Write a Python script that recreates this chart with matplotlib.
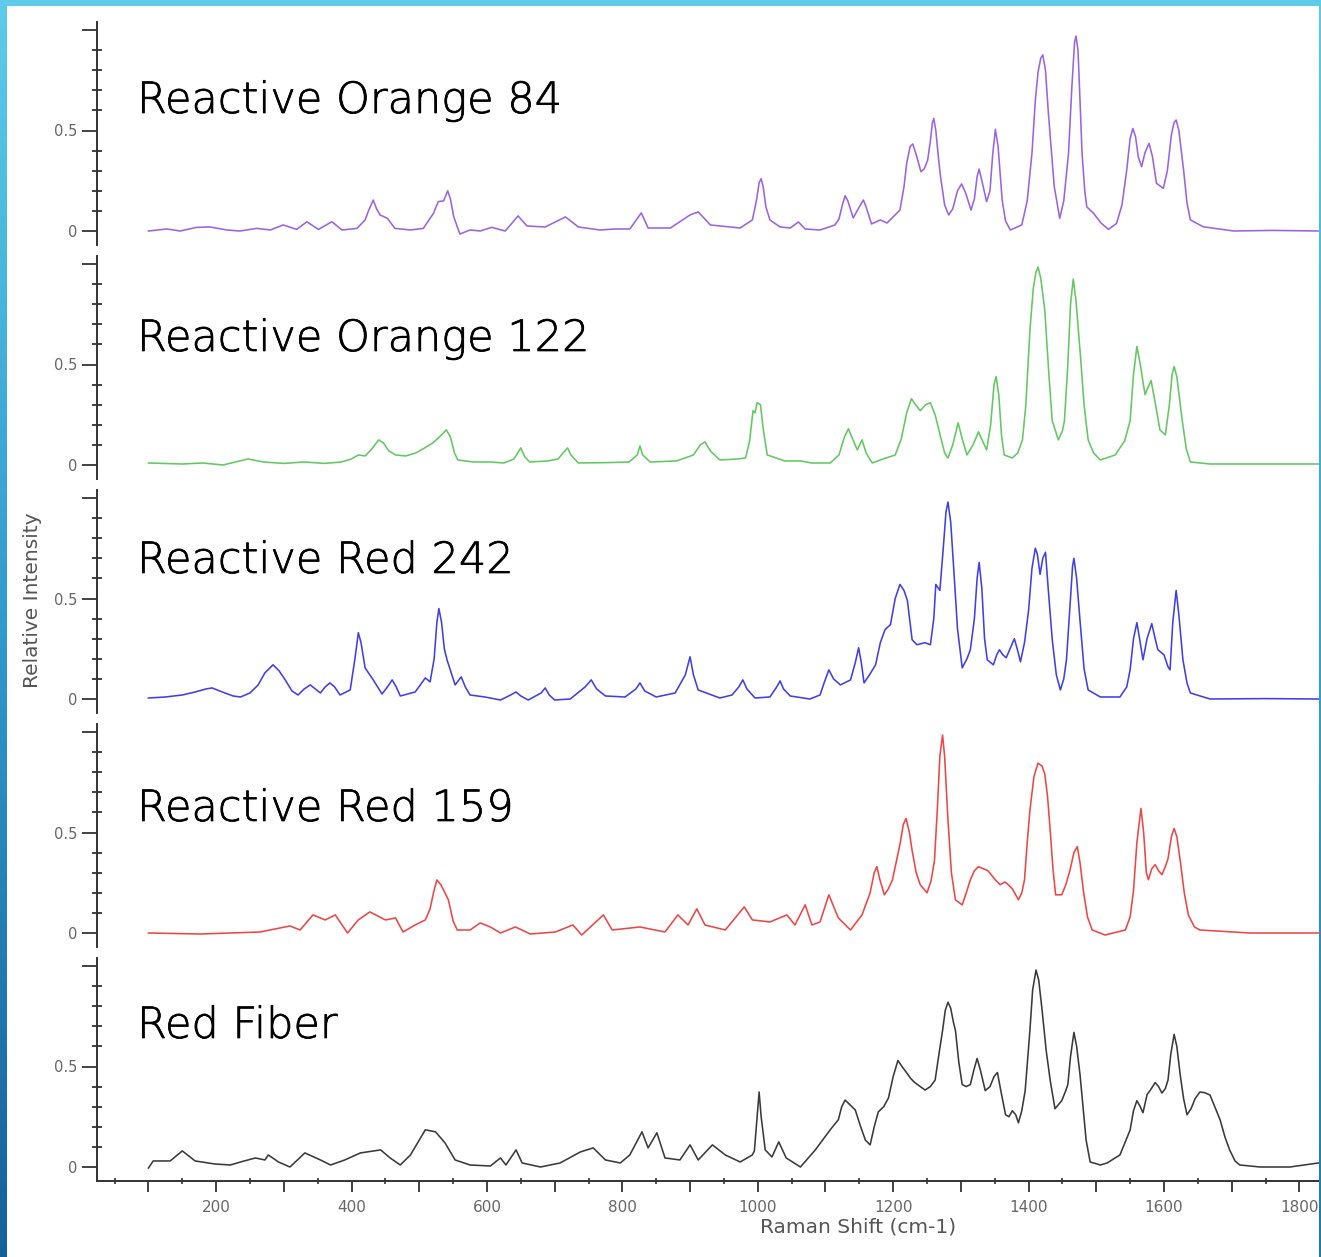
import matplotlib
matplotlib.use("Agg")
import matplotlib.pyplot as plt
import matplotlib.patheffects as pe
import numpy as np
from matplotlib.colors import LinearSegmentedColormap
from matplotlib.ticker import MultipleLocator, FixedLocator

# ---- spectra: Raman shift (cm-1) and relative intensity ----
shift_ro84 = [100, 127, 147, 171, 191, 216, 235, 260, 280, 299, 319, 334, 351, 371, 386, 408,
              420, 425, 432, 437, 442, 453, 464, 487, 506, 521, 528, 536, 542, 546, 551, 560,
              575, 590, 607, 627, 646, 659, 686, 716, 735, 767, 789, 811, 828, 838, 871, 900,
              912, 930, 974, 992, 998, 1002, 1005, 1008, 1012, 1018, 1033, 1048, 1060, 1070,
              1092, 1114, 1120, 1125, 1129, 1133, 1141, 1150, 1156, 1160, 1168, 1181, 1191,
              1210, 1216, 1220, 1225, 1229, 1234, 1241, 1246, 1251, 1255, 1258, 1260, 1263,
              1267, 1270, 1276, 1282, 1288, 1295, 1301, 1307, 1315, 1320, 1324, 1327, 1331,
              1338, 1343, 1347, 1351, 1355, 1361, 1366, 1373, 1390, 1398, 1405, 1410, 1414,
              1418, 1421, 1425, 1429, 1432, 1438, 1446, 1452, 1459, 1464, 1468, 1470, 1473,
              1476, 1479, 1483, 1486, 1496, 1507, 1518, 1530, 1538, 1545, 1550, 1554, 1558,
              1562, 1567, 1572, 1578, 1583, 1589, 1599, 1605, 1611, 1615, 1618, 1622, 1629,
              1634, 1639, 1658, 1703, 1760, 1828]
inten_ro84 = [0.0, 0.01, 0.0, 0.018, 0.02, 0.005, 0.0, 0.013, 0.005, 0.03, 0.008, 0.046, 0.008,
              0.046, 0.005, 0.013, 0.055, 0.1, 0.154, 0.11, 0.08, 0.063, 0.013, 0.005, 0.013,
              0.088, 0.146, 0.15, 0.2, 0.16, 0.07, -0.015, 0.005, 0.0, 0.018, 0.0, 0.075, 0.025,
              0.02, 0.07, 0.02, 0.005, 0.01, 0.01, 0.09, 0.015, 0.015, 0.08, 0.095, 0.03, 0.015,
              0.055, 0.15, 0.24, 0.26, 0.22, 0.12, 0.055, 0.02, 0.015, 0.045, 0.01, 0.005, 0.03,
              0.06, 0.13, 0.175, 0.15, 0.065, 0.12, 0.154, 0.12, 0.035, 0.055, 0.04, 0.104, 0.22,
              0.337, 0.42, 0.433, 0.38, 0.295, 0.31, 0.353, 0.45, 0.54, 0.56, 0.5, 0.36, 0.27,
              0.13, 0.08, 0.11, 0.2, 0.234, 0.19, 0.104, 0.16, 0.27, 0.308, 0.25, 0.146, 0.2,
              0.38, 0.506, 0.42, 0.154, 0.05, 0.005, 0.03, 0.15, 0.386, 0.65, 0.79, 0.86, 0.876,
              0.8, 0.6, 0.47, 0.22, 0.063, 0.15, 0.386, 0.72, 0.94, 0.97, 0.9, 0.65, 0.386, 0.2,
              0.12, 0.088, 0.04, 0.008, 0.038, 0.13, 0.303, 0.46, 0.51, 0.47, 0.37, 0.32, 0.39,
              0.436, 0.37, 0.237, 0.212, 0.3, 0.48, 0.54, 0.552, 0.5, 0.303, 0.14, 0.055, 0.021,
              0.0, 0.003, 0.0]

shift_ro122 = [100, 120, 150, 180, 210, 247, 270, 300, 330, 360, 385, 400, 410, 420, 430, 440,
               447, 455, 465, 480, 495, 508, 520, 530, 540, 546, 552, 557, 580, 605, 625, 640,
               650, 656, 663, 690, 705, 715, 719, 724, 735, 780, 810, 822, 826, 830, 841, 880,
               905, 915, 922, 930, 944, 970, 982, 988, 993, 996, 999, 1004, 1008, 1014, 1040,
               1063, 1080, 1107, 1120, 1128, 1134, 1140, 1147, 1154, 1160, 1169, 1185, 1203,
               1212, 1220, 1227, 1233, 1240, 1248, 1255, 1262, 1270, 1276, 1281, 1288, 1296,
               1302, 1309, 1318, 1326, 1332, 1338, 1344, 1349, 1352, 1356, 1360, 1364, 1376,
               1384, 1391, 1396, 1402, 1407, 1411, 1414, 1418, 1424, 1430, 1435, 1444, 1450,
               1453, 1458, 1462, 1466, 1470, 1476, 1482, 1488, 1496, 1506, 1528, 1542, 1550,
               1555, 1560, 1565, 1572, 1577, 1581, 1586, 1594, 1602, 1608, 1612, 1615, 1619,
               1627, 1633, 1639, 1668, 1750, 1828]
inten_ro122 = [0.01, 0.008, 0.005, 0.01, 0.0, 0.03, 0.015, 0.008, 0.015, 0.008, 0.015, 0.03,
               0.05, 0.045, 0.08, 0.125, 0.11, 0.07, 0.05, 0.045, 0.06, 0.085, 0.11, 0.14, 0.175,
               0.14, 0.06, 0.025, 0.015, 0.015, 0.01, 0.03, 0.085, 0.04, 0.015, 0.02, 0.03, 0.07,
               0.085, 0.05, 0.01, 0.012, 0.015, 0.05, 0.095, 0.05, 0.015, 0.02, 0.05, 0.1, 0.115,
               0.07, 0.025, 0.03, 0.035, 0.12, 0.27, 0.26, 0.31, 0.3, 0.18, 0.05, 0.02, 0.02,
               0.01, 0.01, 0.05, 0.14, 0.18, 0.13, 0.075, 0.125, 0.06, 0.01, 0.03, 0.05, 0.13,
               0.26, 0.33, 0.3, 0.27, 0.3, 0.31, 0.25, 0.14, 0.06, 0.035, 0.1, 0.21, 0.13, 0.05,
               0.1, 0.165, 0.12, 0.075, 0.2, 0.4, 0.44, 0.35, 0.15, 0.05, 0.035, 0.06, 0.125, 0.3,
               0.67, 0.88, 0.96, 0.985, 0.93, 0.77, 0.45, 0.22, 0.125, 0.17, 0.22, 0.5, 0.8, 0.925,
               0.82, 0.57, 0.3, 0.125, 0.06, 0.025, 0.05, 0.12, 0.22, 0.45, 0.59, 0.5, 0.35, 0.39,
               0.42, 0.33, 0.175, 0.15, 0.3, 0.45, 0.49, 0.44, 0.22, 0.08, 0.015, 0.005, 0.005,
               0.005]

shift_rr242 = [100, 125, 150, 169, 185, 194, 209, 225, 236, 250, 262, 272, 284, 293, 302, 312,
               321, 330, 339, 354, 361, 368, 375, 383, 398, 405, 410, 414, 420, 432, 445, 453,
               460, 466, 472, 494, 509, 516, 522, 526, 529, 533, 537, 541, 553, 562, 568, 575,
               597, 620, 635, 643, 650, 661, 680, 686, 692, 700, 723, 745, 754, 762, 775, 804,
               820, 826, 833, 850, 878, 893, 900, 905, 912, 944, 962, 972, 978, 984, 996, 1018,
               1028, 1033, 1038, 1048, 1077, 1092, 1098, 1105, 1112, 1122, 1137, 1144, 1149,
               1153, 1157, 1165, 1174, 1181, 1188, 1196, 1203, 1210, 1216, 1221, 1225, 1228,
               1235, 1247, 1255, 1260, 1263, 1269, 1274, 1278, 1281, 1285, 1290, 1295, 1302,
               1309, 1314, 1320, 1324, 1327, 1331, 1335, 1339, 1348, 1353, 1357, 1362, 1367,
               1374, 1379, 1384, 1388, 1394, 1400, 1405, 1410, 1413, 1417, 1421, 1425, 1429,
               1435, 1441, 1447, 1452, 1456, 1461, 1465, 1467, 1471, 1476, 1482, 1488, 1506,
               1535, 1545, 1550, 1555, 1560, 1564, 1569, 1575, 1582, 1587, 1591, 1600, 1606,
               1609, 1613, 1618, 1622, 1628, 1634, 1639, 1668, 1750, 1828]
inten_rr242 = [0.005, 0.01, 0.02, 0.035, 0.05, 0.055, 0.035, 0.015, 0.01, 0.03, 0.07, 0.13, 0.17,
               0.14, 0.095, 0.04, 0.02, 0.05, 0.07, 0.03, 0.06, 0.08, 0.06, 0.02, 0.045, 0.2, 0.33,
               0.28, 0.155, 0.095, 0.025, 0.06, 0.095, 0.06, 0.015, 0.035, 0.105, 0.085, 0.2,
               0.38, 0.45, 0.38, 0.25, 0.195, 0.07, 0.11, 0.06, 0.02, 0.01, -0.005, 0.02, 0.035,
               0.015, -0.005, 0.03, 0.055, 0.02, -0.005, 0.0, 0.06, 0.095, 0.05, 0.015, 0.01,
               0.05, 0.08, 0.04, 0.01, 0.03, 0.12, 0.21, 0.12, 0.045, 0.005, 0.02, 0.06, 0.095,
               0.05, 0.005, 0.01, 0.06, 0.09, 0.05, 0.015, 0.0, 0.02, 0.08, 0.145, 0.1, 0.07,
               0.095, 0.18, 0.255, 0.18, 0.08, 0.12, 0.17, 0.28, 0.345, 0.37, 0.5, 0.57, 0.54,
               0.49, 0.38, 0.295, 0.27, 0.28, 0.27, 0.4, 0.57, 0.54, 0.75, 0.93, 0.98, 0.88, 0.62,
               0.35, 0.155, 0.2, 0.245, 0.4, 0.6, 0.68, 0.55, 0.3, 0.195, 0.17, 0.22, 0.245, 0.22,
               0.205, 0.26, 0.30, 0.24, 0.185, 0.28, 0.44, 0.65, 0.75, 0.72, 0.62, 0.7, 0.73, 0.55,
               0.295, 0.12, 0.045, 0.1, 0.195, 0.45, 0.66, 0.70, 0.6, 0.39, 0.15, 0.045, 0.01,
               0.01, 0.06, 0.145, 0.3, 0.38, 0.3, 0.195, 0.3, 0.375, 0.3, 0.245, 0.22, 0.16, 0.145,
               0.38, 0.54, 0.42, 0.195, 0.08, 0.03, 0.0, 0.002, 0.0]

shift_rr159 = [100, 176, 265, 309, 324, 343, 361, 376, 394, 410, 427, 450, 465, 476, 494, 509,
               516, 521, 526, 532, 538, 543, 550, 556, 575, 590, 605, 620, 642, 664, 701, 727, 740,
               772, 785, 826, 863, 882, 897, 910, 922, 952, 980, 992, 1018, 1043, 1055, 1070,
               1080, 1092, 1105, 1119, 1137, 1154, 1166, 1172, 1176, 1180, 1187, 1193, 1199,
               1205, 1210, 1215, 1219, 1224, 1228, 1234, 1240, 1250, 1256, 1261, 1265, 1269,
               1273, 1276, 1281, 1286, 1292, 1302, 1308, 1314, 1320, 1326, 1333, 1340, 1351,
               1358, 1365, 1370, 1376, 1385, 1390, 1394, 1398, 1402, 1408, 1414, 1420, 1424,
               1428, 1432, 1436, 1440, 1449, 1455, 1461, 1467, 1472, 1476, 1481, 1487, 1494,
               1513, 1543, 1550, 1555, 1560, 1566, 1570, 1574, 1577, 1582, 1587, 1592, 1597,
               1602, 1606, 1611, 1615, 1619, 1624, 1630, 1636, 1645, 1653, 1727, 1828]
inten_rr159 = [0.0, -0.005, 0.005, 0.035, 0.015, 0.09, 0.065, 0.09, 0.0, 0.065, 0.105, 0.065,
               0.075, 0.005, 0.04, 0.065, 0.12, 0.2, 0.264, 0.24, 0.2, 0.165, 0.06, 0.015, 0.015,
               0.05, 0.03, 0.0, 0.03, -0.005, 0.005, 0.04, -0.01, 0.09, 0.015, 0.03, 0.005, 0.09,
               0.04, 0.12, 0.04, 0.015, 0.13, 0.065, 0.055, 0.09, 0.04, 0.14, 0.04, 0.055, 0.19,
               0.075, 0.015, 0.09, 0.2, 0.3, 0.33, 0.27, 0.19, 0.22, 0.265, 0.36, 0.44, 0.54,
               0.57, 0.5, 0.41, 0.3, 0.24, 0.2, 0.26, 0.36, 0.6, 0.88, 0.985, 0.88, 0.56, 0.3,
               0.165, 0.14, 0.2, 0.264, 0.31, 0.33, 0.32, 0.31, 0.264, 0.24, 0.254, 0.24, 0.22,
               0.165, 0.2, 0.264, 0.45, 0.61, 0.78, 0.845, 0.83, 0.79, 0.68, 0.51, 0.32, 0.19,
               0.19, 0.24, 0.31, 0.4, 0.43, 0.35, 0.21, 0.08, 0.015, -0.01, 0.015, 0.08, 0.21,
               0.45, 0.62, 0.5, 0.3, 0.265, 0.32, 0.34, 0.31, 0.29, 0.33, 0.37, 0.48, 0.52, 0.48,
               0.36, 0.2, 0.09, 0.03, 0.015, 0.0, 0.0]

shift_fiber = [100, 107, 132, 150, 169, 198, 221, 236, 258, 272, 277, 292, 309, 331, 354, 369,
               390, 413, 443, 457, 472, 487, 509, 524, 538, 553, 575, 605, 620, 628, 643, 652, 679,
               708, 738, 757, 775, 797, 811, 829, 838, 851, 863, 885, 900, 912, 933, 952, 974, 992,
               995, 999, 1002, 1005, 1011, 1021, 1031, 1042, 1063, 1085, 1107, 1119, 1124, 1129,
               1136, 1144, 1152, 1159, 1166, 1172, 1178, 1186, 1193, 1200, 1207, 1213, 1219, 1226,
               1232, 1240, 1247, 1255, 1262, 1268, 1273, 1277, 1281, 1285, 1289, 1292, 1297, 1302,
               1308, 1314, 1319, 1324, 1329, 1336, 1343, 1349, 1354, 1359, 1366, 1371, 1376, 1381,
               1385, 1390, 1395, 1402, 1406, 1411, 1415, 1420, 1426, 1432, 1439, 1444, 1449, 1455,
               1458, 1462, 1467, 1471, 1476, 1481, 1485, 1491, 1506, 1516, 1535, 1550, 1555, 1560,
               1565, 1569, 1575, 1580, 1587, 1592, 1597, 1602, 1606, 1610, 1615, 1619, 1624, 1629,
               1634, 1640, 1646, 1653, 1660, 1668, 1675, 1683, 1690, 1697, 1705, 1712, 1742, 1786,
               1828]
inten_fiber = [-0.005, 0.03, 0.03, 0.08, 0.03, 0.015, 0.01, 0.025, 0.045, 0.035, 0.06, 0.025,
               0.0, 0.07, 0.035, 0.01, 0.035, 0.07, 0.085, 0.045, 0.01, 0.06, 0.185, 0.175, 0.12,
               0.035, 0.01, 0.005, 0.045, 0.01, 0.085, 0.02, 0.0, 0.02, 0.075, 0.095, 0.035, 0.02,
               0.06, 0.175, 0.095, 0.17, 0.045, 0.035, 0.11, 0.035, 0.11, 0.06, 0.025, 0.06, 0.08,
               0.25, 0.373, 0.25, 0.085, 0.05, 0.125, 0.045, 0.0, 0.085, 0.185, 0.235, 0.3, 0.333,
               0.31, 0.284, 0.2, 0.134, 0.11, 0.2, 0.274, 0.3, 0.343, 0.45, 0.53, 0.5, 0.473,
               0.44, 0.42, 0.4, 0.383, 0.4, 0.433, 0.57, 0.68, 0.78, 0.82, 0.79, 0.72, 0.68, 0.52,
               0.41, 0.4, 0.41, 0.48, 0.54, 0.48, 0.38, 0.40, 0.45, 0.47, 0.38, 0.26, 0.25, 0.28,
               0.26, 0.22, 0.28, 0.38, 0.68, 0.88, 0.98, 0.93, 0.78, 0.58, 0.43, 0.29, 0.31, 0.33,
               0.38, 0.41, 0.55, 0.67, 0.6, 0.46, 0.28, 0.134, 0.025, 0.01, 0.02, 0.06, 0.184,
               0.28, 0.33, 0.3, 0.27, 0.36, 0.383, 0.42, 0.4, 0.368, 0.39, 0.433, 0.56, 0.66, 0.6,
               0.458, 0.34, 0.26, 0.29, 0.34, 0.373, 0.37, 0.358, 0.3, 0.234, 0.15, 0.085, 0.03,
               0.01, 0.0, 0.0, 0.02]

names = ["Reactive Orange 84", "Reactive Orange 122", "Reactive Red 242",
         "Reactive Red 159", "Red Fiber"]
colors = ["#9a63e4", "#62c862", "#3f3fec", "#ee4646", "#3a3a3a"]
series = [(shift_ro84, inten_ro84), (shift_ro122, inten_ro122), (shift_rr242, inten_rr242),
          (shift_rr159, inten_rr159), (shift_fiber, inten_fiber)]

W, H = 1321, 1257
fig = plt.figure(figsize=(W / 100, H / 100), dpi=100)
fig.patch.set_facecolor("white")


def fx(px):
    return px / W


def fy(py):
    return 1 - py / H


# panel geometry (pixels)
x_left, x_right = 97, 1319
zero_rows = [231, 465, 699, 933, 1167]
unit = 201.0
ymin, ymax = -0.07, 1.04
label_baselines = [113, 351, 573, 821, 1038]

tick_color = "#333333"
label_color = "#666666"
title_outline = [pe.withStroke(linewidth=0.5, foreground="black")]

for k, ((xs, ys), name, col) in enumerate(zip(series, names, colors)):
    y0 = zero_rows[k]
    top = y0 - ymax * unit
    bottom = y0 - ymin * unit
    ax = fig.add_axes([fx(x_left), fy(bottom), fx(x_right - x_left), (bottom - top) / H])
    ax.set_facecolor("none")
    ax.plot(xs, ys, color=col, lw=1.15, solid_joinstyle="round")
    ax.set_xlim(24, 1829)
    ax.set_ylim(ymin, ymax)
    for s in ["top", "right"]:
        ax.spines[s].set_visible(False)
    ax.spines["left"].set_color(tick_color)
    ax.spines["left"].set_linewidth(1.4)
    ax.yaxis.set_major_locator(FixedLocator([0, 0.5, 1.0]))
    ax.set_yticklabels(["0", "0.5", ""])
    ax.yaxis.set_minor_locator(MultipleLocator(0.1))
    ax.tick_params(axis="y", which="major", direction="out", length=11, width=1.3,
                   color=tick_color, labelsize=10.5, labelcolor=label_color, pad=3)
    ax.tick_params(axis="y", which="minor", direction="inout", length=7, width=1.3,
                   color=tick_color)
    if k < 4:
        ax.spines["bottom"].set_visible(False)
        ax.tick_params(axis="x", which="both", bottom=False, labelbottom=False)
    else:
        ax.spines["bottom"].set_color(tick_color)
        ax.spines["bottom"].set_linewidth(1.4)
        ax.xaxis.set_major_locator(MultipleLocator(100))
        ax.xaxis.set_minor_locator(MultipleLocator(50))
        ax.set_xticklabels([])
        ax.tick_params(axis="x", which="major", direction="out", length=8, width=1.3,
                       color=tick_color)
        ax.tick_params(axis="x", which="minor", direction="inout", length=5, width=1.2,
                       color=tick_color)
        for v in range(200, 1801, 200):
            ax.text(v, -0.085, str(v), transform=ax.get_xaxis_transform(),
                    ha="center", va="top", fontsize=11, color=label_color,
                    clip_on=False)
    fig.text(fx(137), fy(label_baselines[k]), name, ha="left", va="baseline",
             fontsize=31, color="black", family="DejaVu Sans", fontweight="light",
             path_effects=title_outline)

fig.text(fx(33), fy(600), "Relative Intensity", rotation=90, ha="center", va="center",
         fontsize=14.5, color="#555555")
fig.text(fx(858), fy(1227), "Raman Shift (cm-1)", ha="center", va="center",
         fontsize=14.5, color="#555555")

# slide frame: gradient bands on the left and right, flat band on top
left_cmap = LinearSegmentedColormap.from_list("frame_l", ["#5dcbe9", "#3199cc", "#15609c"])
right_cmap = LinearSegmentedColormap.from_list("frame_r", ["#5dcbe9", "#3d9fd2", "#2177b5"])
grad = np.linspace(0, 1, 256)[:, None]
for (x0, w, cm) in [(0, 7, left_cmap), (1319, 2, right_cmap)]:
    bax = fig.add_axes([fx(x0), 0, fx(w), 1], zorder=20)
    bax.imshow(grad, aspect="auto", cmap=cm, extent=[0, 1, 0, 1], origin="upper")
    bax.set_axis_off()
tax = fig.add_axes([0, fy(6), 1, 6 / H], zorder=21)
tax.set_facecolor("#5dcbe9")
tax.set_xticks([])
tax.set_yticks([])
for s in tax.spines.values():
    s.set_visible(False)

fig.savefig("out.png", dpi=100)
